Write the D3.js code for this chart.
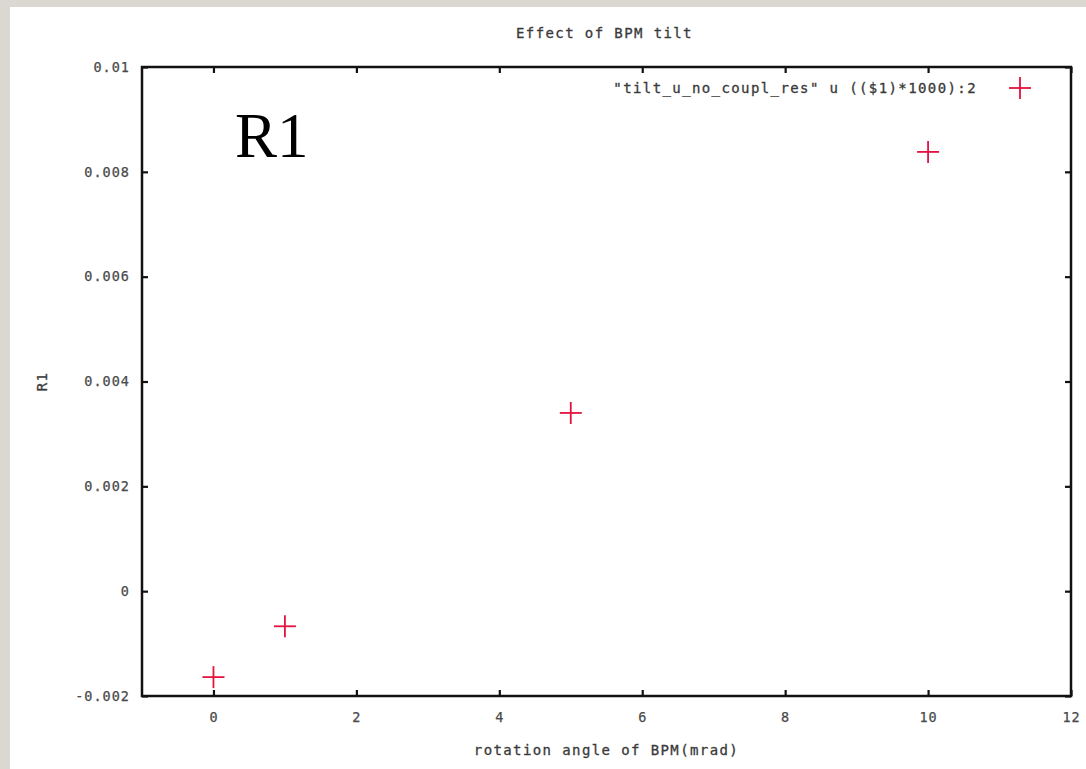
<!DOCTYPE html>
<html>
<head>
<meta charset="utf-8">
<script src="https://cdn.jsdelivr.net/npm/d3@7"></script>
<style>
  body { margin: 0; background: #dbd8d2; }
  svg { display: block; }
  .tick text { font-family: "DejaVu Sans Mono", monospace; font-size: 13.5px; fill: #4a4a4a; letter-spacing: 1px; stroke: #4a4a4a; stroke-width: 0.25px; }
  .lbl { font-family: "DejaVu Sans Mono", monospace; font-size: 14px; fill: #3a3a3a; letter-spacing: 1.4px; stroke: #3a3a3a; stroke-width: 0.3px; }
</style>
</head>
<body>
<div id="chart"></div>
<script>
// data
var angles = [0, 1, 5, 10];
var r1 = [-0.00164, -0.00067, 0.0034, 0.00838];
var xTicks = [0, 2, 4, 6, 8, 10, 12];
var yTicks = [-0.002, 0, 0.002, 0.004, 0.006, 0.008, 0.01];
var yTickLabels = ["-0.002", "0", "0.002", "0.004", "0.006", "0.008", "0.01"];
var seriesName = "\"tilt_u_no_coupl_res\" u (($1)*1000):2";

var W = 1086, H = 769;
var margin = {top: 67, left: 142, right: 15, bottom: 73};
var width = W - margin.left - margin.right,
    height = H - margin.top - margin.bottom;

var svg = d3.select("#chart").append("svg")
    .attr("width", W)
    .attr("height", H);

// slide panel
svg.append("rect")
    .attr("x", 10).attr("y", 7)
    .attr("width", W - 10).attr("height", H - 7)
    .attr("fill", "#fff");

var g = svg.append("g")
    .attr("transform", "translate(" + margin.left + "," + margin.top + ")");

var x = d3.scaleLinear().domain([-1, 12]).range([0, width]);
var y = d3.scaleLinear().domain([-0.002, 0.01]).range([height, 0]);

// axes, ticks point inward like gnuplot
g.append("g")
    .attr("transform", "translate(0," + height + ")")
    .call(d3.axisBottom(x).tickValues(xTicks).tickSize(-6).tickPadding(16).tickSizeOuter(0));
g.append("g")
    .call(d3.axisLeft(y).tickValues(yTicks).tickSize(-6).tickPadding(12).tickSizeOuter(0)
        .tickFormat(function(d, i) { return yTickLabels[i]; }));
g.append("g")
    .call(d3.axisTop(x).tickValues(xTicks).tickSize(-6).tickSizeOuter(0).tickFormat(""));
g.append("g")
    .attr("transform", "translate(" + width + ",0)")
    .call(d3.axisRight(y).tickValues(yTicks).tickSize(-6).tickSizeOuter(0).tickFormat(""));

g.selectAll(".domain").remove();
g.selectAll(".tick line").attr("stroke", "#111").attr("stroke-width", 2.2);

// frame
g.append("rect")
    .attr("width", width).attr("height", height)
    .attr("fill", "none").attr("stroke", "#111").attr("stroke-width", 2.5);

// plus markers
var s = 11;
function plus(sel) {
  sel.append("line").attr("x1", -s).attr("x2", s).attr("y1", 0).attr("y2", 0);
  sel.append("line").attr("x1", 0).attr("x2", 0).attr("y1", -s).attr("y2", s);
}
var pts = g.selectAll(".pt").data(angles).enter().append("g")
    .attr("class", "pt")
    .attr("transform", function(d, i) { return "translate(" + x(d) + "," + y(r1[i]) + ")"; })
    .attr("stroke", "#e3123f").attr("stroke-width", 1.8);
pts.each(function() { plus(d3.select(this)); });

// legend
var leg = g.append("g").attr("transform", "translate(" + (width - 51) + ",21)");
leg.append("text").attr("class", "lbl")
    .attr("x", -43).attr("y", 5)
    .attr("text-anchor", "end")
    .text(seriesName);
leg.append("g").attr("stroke", "#e3123f").attr("stroke-width", 1.8).call(plus);

// titles
svg.append("text").attr("class", "lbl")
    .attr("x", margin.left + width / 2 - 2).attr("y", 38)
    .attr("text-anchor", "middle")
    .text("Effect of BPM tilt");
svg.append("text").attr("class", "lbl")
    .attr("x", margin.left + width / 2).attr("y", 755)
    .attr("text-anchor", "middle")
    .text("rotation angle of BPM(mrad)");
svg.append("text").attr("class", "lbl")
    .attr("transform", "translate(47," + (margin.top + height / 2) + ") rotate(-90)")
    .attr("text-anchor", "middle")
    .text("R1");

// big slide label
svg.append("text")
    .attr("x", 235).attr("y", 157)
    .attr("font-family", "Liberation Serif, serif")
    .attr("font-size", 63)
    .attr("fill", "#000")
    .text("R1");
</script>
</body>
</html>
